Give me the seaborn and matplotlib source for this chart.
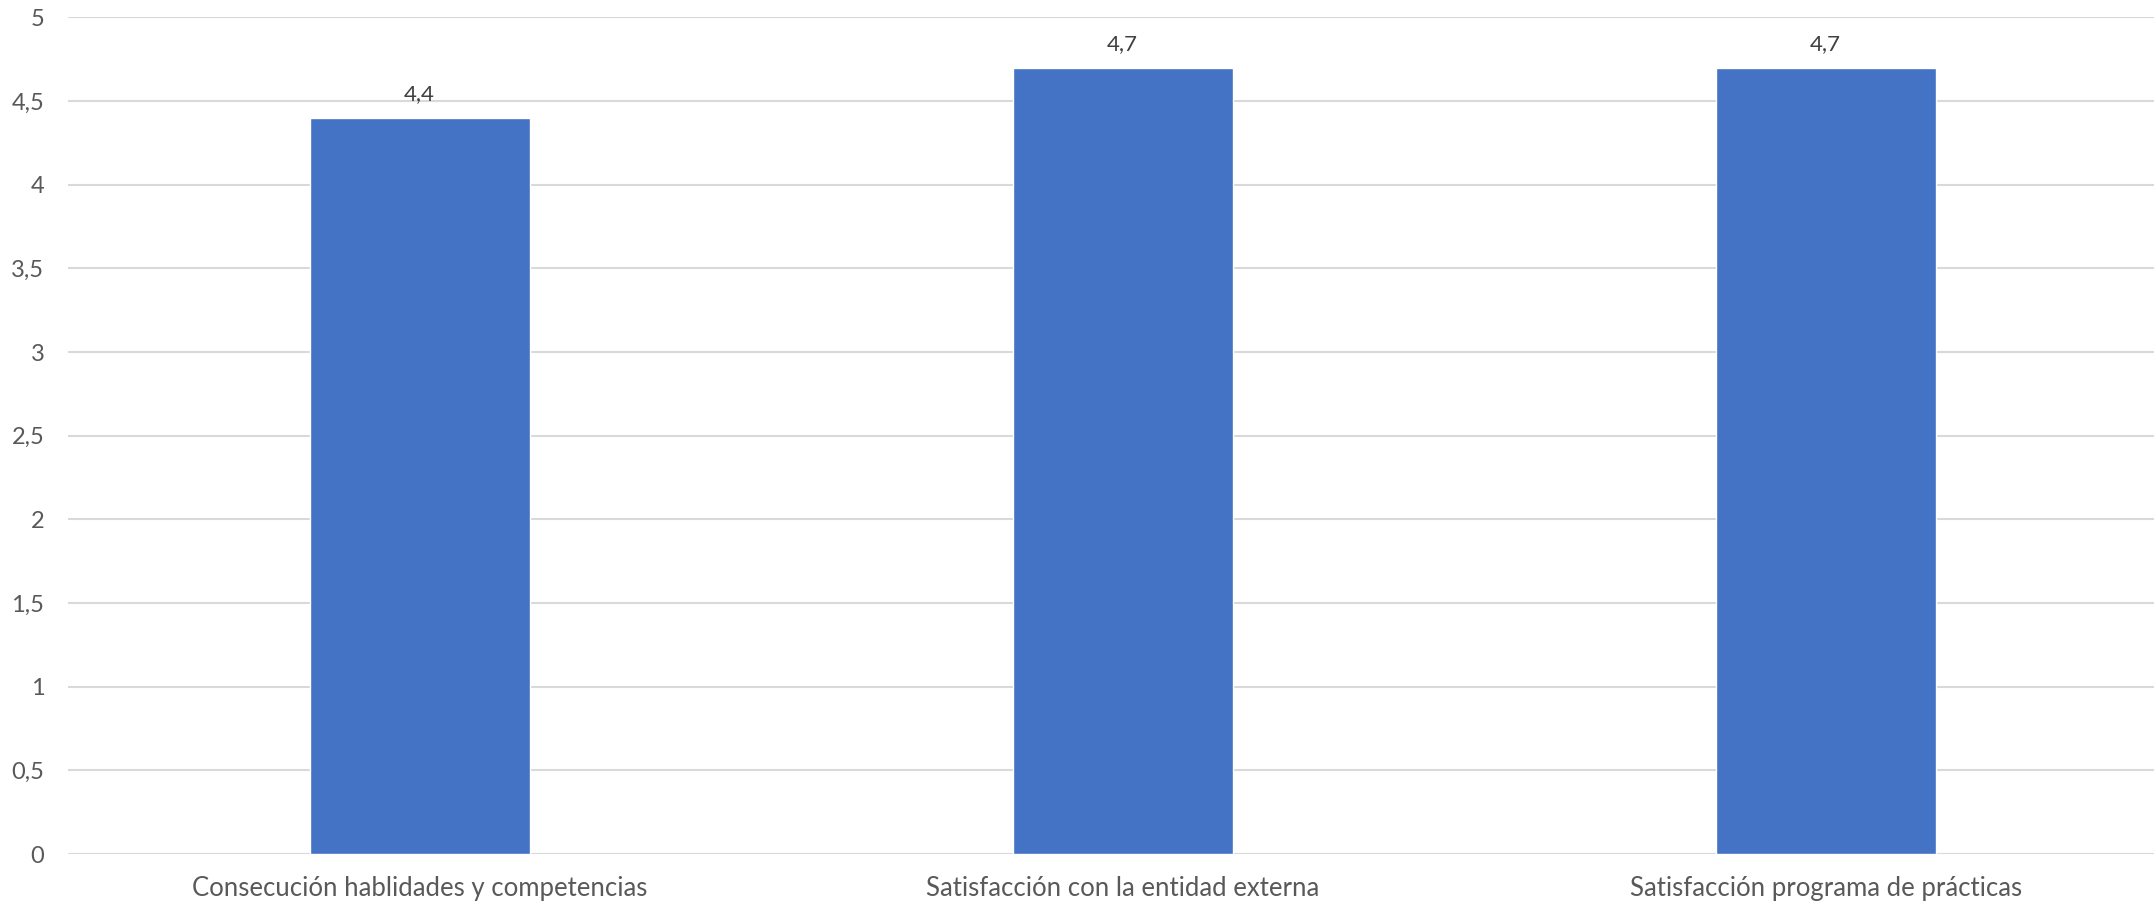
import matplotlib

matplotlib.use("Agg")
import matplotlib.pyplot as plt
import seaborn as sns
import pandas as pd

# Data
categories = [
    "Consecución hablidades y competencias",
    "Satisfacción con la entidad externa",
    "Satisfacción programa de prácticas",
]
scores = [4.4, 4.7, 4.7]
y_ticks = [0, 0.5, 1, 1.5, 2, 2.5, 3, 3.5, 4, 4.5, 5]

df = pd.DataFrame({"categoria": categories, "valor": scores})

sns.set_style("white")
plt.rcParams["font.family"] = ["Lato", "DejaVu Sans"]

text_col = "#595959"
bar_col = "#4472C4"
grid_col = "#D9D9D9"

fig = plt.figure(figsize=(21.54, 9.05), dpi=100)
ax = fig.add_axes([68 / 2154, 51 / 905, (2154 - 68) / 2154, (854 - 17.5) / 905])

sns.barplot(
    data=df,
    x="categoria",
    y="valor",
    color=bar_col,
    width=0.313,
    saturation=1,
    ax=ax,
    zorder=3,
)

ax.set_ylim(0, 5)
ax.set_xlim(-0.5, 2.467)
ax.set_yticks(y_ticks)
ax.set_yticklabels([f"{t:g}".replace(".", ",") for t in y_ticks])
ax.set_xlabel("")
ax.set_ylabel("")

# horizontal gridlines
for t in y_ticks:
    ax.axhline(t, color=grid_col, linewidth=1.5, zorder=1)

for s in ax.spines.values():
    s.set_visible(False)

ax.tick_params(axis="y", length=0, pad=17, labelsize=17, labelcolor=text_col)
ax.tick_params(axis="x", length=0, pad=16, labelsize=18.5, labelcolor=text_col)

# value labels
for i, v in enumerate(scores):
    ax.annotate(
        f"{v:.1f}".replace(".", ","),
        xy=(i, v),
        xytext=(0, 14),
        textcoords="offset pixels",
        ha="center",
        va="bottom",
        fontsize=16,
        color="#404040",
    )

plt.savefig("out.png", dpi=100, facecolor="white")
